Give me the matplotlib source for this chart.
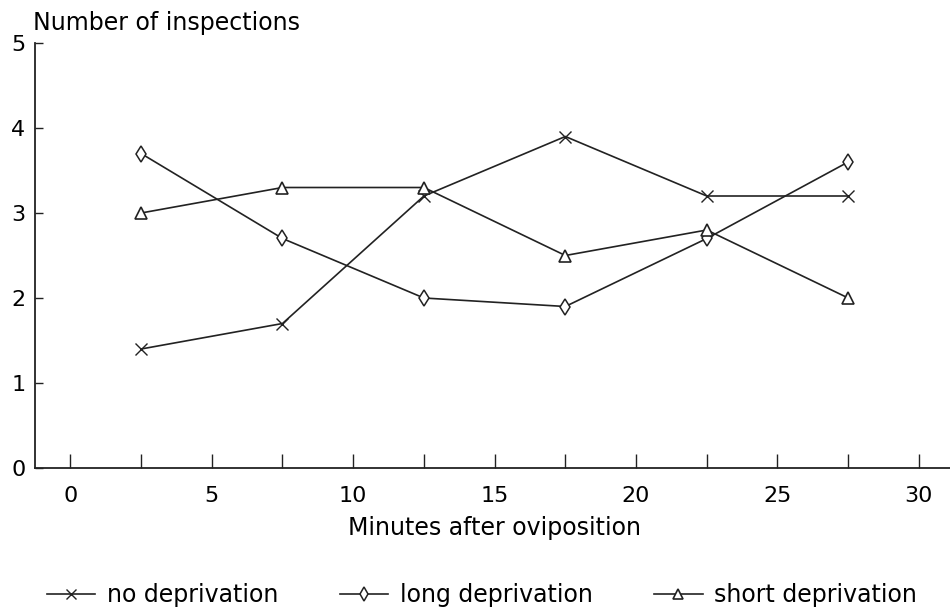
import matplotlib
matplotlib.use("Agg")
import matplotlib.pyplot as plt
from matplotlib.lines import Line2D

minutes = [2.5, 7.5, 12.5, 17.5, 22.5, 27.5]
no_deprivation = [1.4, 1.7, 3.2, 3.9, 3.2, 3.2]
long_deprivation = [3.7, 2.7, 2.0, 1.9, 2.7, 3.6]
short_deprivation = [3.0, 3.3, 3.3, 2.5, 2.8, 2.0]
series_labels = ["no deprivation", "long deprivation", "short deprivation"]
x_ticks = [0, 5, 10, 15, 20, 25, 30]
y_ticks = [0, 1, 2, 3, 4, 5]

plt.rcParams['font.family'] = ['DejaVu Sans']
ink = "#222222"
W, H = 950, 612

fig = plt.figure(figsize=(9.5, 6.12), dpi=100)
ax = fig.add_axes([35 / W, 1 - 468 / H, 1 - 35 / W, (468 - 43) / H])

styles = [
    dict(marker="x", markersize=8.5, markeredgewidth=1.0),
    dict(marker="d", markersize=8, markeredgewidth=1.1, markerfacecolor="white"),
    dict(marker="^", markersize=9, markeredgewidth=1.2, markerfacecolor="white"),
]
legend_sizes = [7, 7, 7]
handles = []
for vals, lab, st, ls in zip([no_deprivation, long_deprivation, short_deprivation],
                             series_labels, styles, legend_sizes):
    ax.plot(minutes, vals, color=ink, linewidth=1.2, markeredgecolor=ink, **st)
    handles.append(Line2D([0], [0], color=ink, linewidth=1.2, markeredgecolor=ink,
                          label=lab, **{**st, "markersize": ls}))

ax.set_xlim(-1.25, 31.1)
ax.set_ylim(0, 5)
for side in ("top", "right"):
    ax.spines[side].set_visible(False)
for side in ("left", "bottom"):
    ax.spines[side].set_color(ink)
    ax.spines[side].set_linewidth(1.3)

# ticks every 2.5 minutes, labelled every 5
x_all = [k * 2.5 for k in range(13)]
ax.set_xticks(x_all)
ax.set_xticklabels([str(int(t)) if t in x_ticks else "" for t in x_all])
ax.set_yticks(y_ticks)
ax.set_yticklabels([str(v) for v in y_ticks])
ax.tick_params(axis="x", direction="in", length=10, width=1.0, color=ink,
               labelsize=16, pad=13, labelcolor="black")
ax.tick_params(axis="y", direction="in", length=6, width=1.0, color=ink,
               labelsize=16, pad=7, labelcolor="black")

fig.text(494 / W, 1 - 535 / H, "Minutes after oviposition", fontsize=17,
         ha="center", va="baseline")
fig.text(33 / W, 1 - 30 / H, "Number of inspections", fontsize=17,
         ha="left", va="baseline")

fig.legend(handles=handles, loc="center", bbox_to_anchor=(482 / W, 1 - 595 / H),
           ncol=3, frameon=False, fontsize=17, handlelength=2.05,
           columnspacing=2.6, handletextpad=0.5, borderpad=0, borderaxespad=0)

fig.savefig("out.png", dpi=100)
